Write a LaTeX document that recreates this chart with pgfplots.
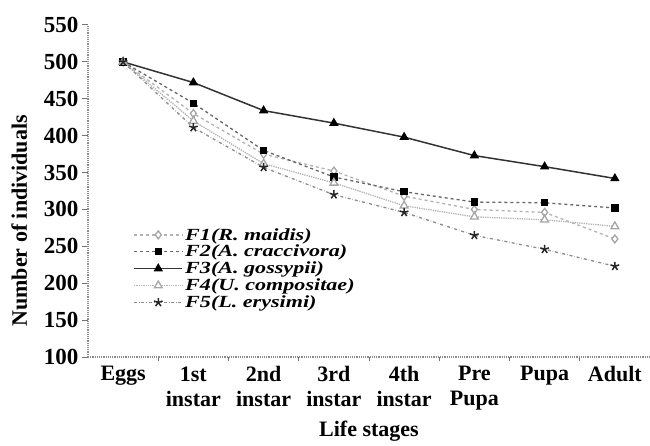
\documentclass[border=0pt]{standalone}
\usepackage{fontspec}
\setmainfont{Liberation Serif}
\usepackage{pgfplots}
\pgfplotsset{compat=1.18}
\usetikzlibrary{plotmarks}
\newcommand{\legtxt}[1]{\scalebox{1.3}[1]{\bfseries\itshape #1}}
\begin{document}
\begin{tikzpicture}
\begin{axis}[
  scale only axis, width=562pt, height=332pt,
  xmin=-0.5, xmax=7.5, ymin=100, ymax=550,
  axis lines*=left,
  axis line style={black!45, densely dotted, line width=1.2pt},
  xtick={0,...,7},
  xticklabels={Eggs,1st\\instar,2nd\\instar,3rd\\instar,4th\\instar,Pre\\Pupa,Pupa,Adult},
  xticklabel style={align=center, font=\fontsize{22}{25}\selectfont\bfseries},
  major x tick style={draw=none},
  minor xtick={0.5,1.5,...,6.5},
  minor x tick style={black!55, line width=1pt},
  minor tick length=4pt,
  ytick={100,150,...,550},
  y tick style={black!55, line width=1pt},
  major tick length=6pt,
  tick align=outside,
  yticklabel style={font=\fontsize{23}{24}\selectfont\bfseries},
  /pgf/number format/assume math mode=true,
  ylabel={Number of individuals}, xlabel={Life stages},
  ylabel style={font=\fontsize{22}{24}\selectfont\bfseries, at={(ticklabel cs:0.41,10pt)}},
  xlabel style={font=\fontsize{22}{24}\selectfont\bfseries, yshift=-4pt},
  legend style={at={(0.075,0.4)}, anchor=north west, draw=none, fill=none,
    font=\fontsize{17}{18}\selectfont, row sep=0pt, nodes={inner ysep=1.8pt}},
  legend cell align=left,
  legend image code/.code={\draw[mark repeat=2,mark phase=2] plot coordinates {(0cm,0cm) (0.85cm,0cm) (1.7cm,0cm)};},
]
\addplot[black!30, dashed, line width=1.3pt, mark=diamond*, mark size=4pt, mark options={solid, fill=white, draw=black!35}]
  coordinates {(0,500) (1,430) (2,375) (3,352) (4,318) (5,300) (6,296) (7,260)};
\addlegendentry{\legtxt{F1(R. maidis)}}
\addplot[black!60, dashed, line width=1.3pt, mark=square*, mark size=3pt, mark options={solid, fill=black, draw=black}]
  coordinates {(0,500) (1,444) (2,380) (3,344) (4,324) (5,310) (6,309) (7,302)};
\addlegendentry{\legtxt{F2(A. craccivora)}}
\addplot[black!80, solid, line width=1.5pt, mark=triangle*, mark size=4pt, mark options={solid, fill=black, draw=black}]
  coordinates {(0,500) (1,472) (2,434) (3,417) (4,398) (5,373) (6,358) (7,342)};
\addlegendentry{\legtxt{F3(A. gossypii)}}
\addplot[black!30, densely dotted, line width=1.3pt, mark=triangle*, mark size=4.5pt, mark options={solid, fill=white, draw=black!35}]
  coordinates {(0,500) (1,420) (2,362) (3,336) (4,305) (5,290) (6,286) (7,277)};
\addlegendentry{\legtxt{F4(U. compositae)}}
\addplot[black!45, dash dot, line width=1.3pt, mark=star, mark size=4.5pt, mark options={solid, draw=black!85, line width=1.5pt}]
  coordinates {(0,500) (1,411) (2,357) (3,320) (4,296) (5,265) (6,246) (7,223)};
\addlegendentry{\legtxt{F5(L. erysimi)}}
\end{axis}
\pgfresetboundingbox
\path (-88pt,-88pt) rectangle (562pt,357pt);
\end{tikzpicture}
\end{document}
